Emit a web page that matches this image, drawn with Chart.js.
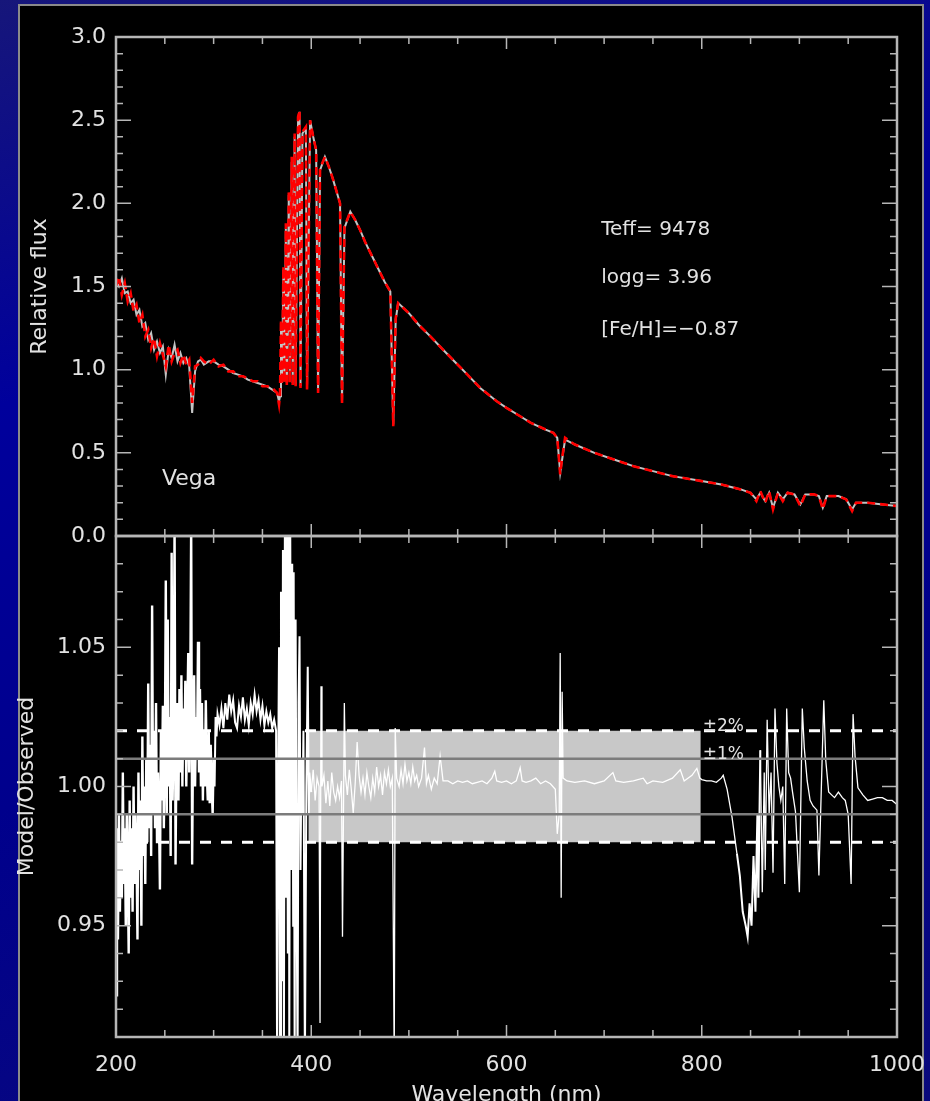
<!DOCTYPE html>
<html>
<head>
<meta charset="utf-8">
<script src="https://cdn.jsdelivr.net/npm/chart.js@4.4.1/dist/chart.umd.min.js"></script>
<style>
html, body { margin: 0; padding: 0; width: 930px; height: 1101px; overflow: hidden; }
body {
  position: relative;
  background: linear-gradient(165deg, #16167a 0%, #00009c 30%, #00008c 60%, #0a0a7c 100%);
}
#panel { position: absolute; left: 18px; top: 4px; width: 902px; height: 1120px; background: #000; border: 2px solid #8a8a8a; }
canvas { position: absolute; left: 0; }
#top { top: 0; }
#bottom { top: 500px; }
</style>
</head>
<body>
<div id="panel"></div>
<canvas id="top" width="930" height="560"></canvas>
<canvas id="bottom" width="930" height="620"></canvas>
<script>
// Vega spectrum, relative flux
var fluxWave = [
  200,203,206,209,212,215,218,221,224,227,
  230,233,236,239,242,245,248,251,254,257,
  260,263,266,269,272,275,278,281,284,287,
  290,295,300,305,310,315,320,325,330,335,
  340,345,350,355,360,365,367,368,369,370,
  371.5,372.5,374,375,377,378,380,381,383,384,
  386.5,388,389,391,394.5,395.7,398.8,402,405,407,
  409,414,418,422,426,429.5,431.5,434,440,445,
  450,455,460,465,470,475,481,484,486.5,489,
  500,510,522,535,550,560,573,590,600,614,
  625,640,648,652,655,657,660,670,690,710,
  730,750,770,800,820,840,850,856,860,865,
  869,873,878,883,888,895,901,906,915,920,
  924,928,940,948,954,958,970,985,1000
];
var fluxObserved = [
  1.53,1.50,1.55,1.46,1.47,1.40,1.42,1.33,1.36,1.26,
  1.28,1.18,1.22,1.12,1.17,1.10,1.14,0.97,1.12,1.07,
  1.15,1.05,1.10,1.04,1.07,1.02,0.74,0.99,1.05,1.06,
  1.03,1.05,1.05,1.03,1.02,1.00,0.98,0.97,0.96,0.94,
  0.93,0.92,0.91,0.90,0.88,0.86,0.81,0.84,1.25,0.92,
  1.60,0.93,1.85,0.92,2.05,0.93,2.25,0.92,2.40,0.91,
  2.50,2.55,0.90,2.42,2.45,0.89,2.50,2.40,2.32,0.87,
  2.20,2.28,2.22,2.15,2.07,2.00,0.80,1.85,1.95,1.90,
  1.84,1.77,1.71,1.65,1.59,1.53,1.47,0.67,1.30,1.40,
  1.34,1.27,1.20,1.12,1.03,0.97,0.89,0.81,0.77,0.72,
  0.68,0.64,0.62,0.59,0.38,0.46,0.58,0.55,0.50,0.46,
  0.42,0.39,0.36,0.33,0.31,0.28,0.26,0.22,0.26,0.21,
  0.26,0.17,0.26,0.22,0.26,0.25,0.19,0.25,0.25,0.24,
  0.17,0.24,0.24,0.22,0.16,0.20,0.20,0.19,0.18
];
var fluxModel = [
  1.50,1.56,1.45,1.52,1.41,1.46,1.35,1.39,1.28,1.33,
  1.20,1.24,1.13,1.19,1.08,1.16,1.09,1.02,1.15,1.05,
  1.10,1.12,1.04,1.09,1.03,1.06,0.80,1.02,1.03,1.07,
  1.05,1.03,1.06,1.02,1.03,0.99,0.99,0.96,0.96,0.95,
  0.93,0.93,0.90,0.90,0.89,0.86,0.79,0.85,1.30,0.91,
  1.62,0.92,1.88,0.90,2.08,0.92,2.28,0.90,2.42,0.90,
  2.52,2.56,0.89,2.43,2.46,0.88,2.50,2.40,2.32,0.86,
  2.21,2.28,2.22,2.15,2.07,2.00,0.79,1.86,1.95,1.90,
  1.84,1.77,1.71,1.65,1.59,1.53,1.47,0.66,1.31,1.40,
  1.34,1.27,1.20,1.12,1.03,0.97,0.89,0.81,0.77,0.72,
  0.68,0.64,0.62,0.59,0.37,0.47,0.59,0.55,0.50,0.46,
  0.42,0.39,0.36,0.33,0.31,0.28,0.26,0.21,0.27,0.20,
  0.27,0.16,0.26,0.21,0.26,0.25,0.18,0.25,0.25,0.24,
  0.16,0.24,0.24,0.22,0.15,0.20,0.20,0.19,0.18
];

// model / observed ratio (lower panel)
var ratioWave = [
  200,201,202,203,204,205,206,207,208,209,
  210,211,212,213,214,215,216,217,218,219,
  220,221,222,223,224,225,226,227,228,229,
  230,231,232,233,234,235,236,237,238,239,
  240,241,242,243,244,245,246,247,248,249,
  250,251,252,253,254,255,256,257,258,259,
  260,261,262,263,264,265,266,267,268,269,
  270,271,272,273,274,275,276,277,278,279,
  280,281,282,283,284,285,286,287,288,289,
  290,291,292,293,294,295,296,297,298,299,
  300,301,302,303,304,306,308,310,312,314,
  316,318,320,322,324,326,328,330,332,334,
  336,338,340,342,344,346,348,350,352,354,
  356,358,360,362,364,365,366,367,368,369,
  370,371,372,373,374,375,376,377,377.5,378.5,
  379.5,380.5,381.5,382,383,384,385,386,387,388,
  389,390,391,392,393.5,395,396.4,397.5,398,400,
  402,404,406,408,409,410,411,413,415,417,
  419,421,423,425,427,429,431,432,433.9,435,
  437,439,441,443,445,447,449,451,453,455,
  457,459,461,463,465,467,469,471,473,475,
  477,479,481,483,485,486,487.5,490,492,494,
  496,498,500,502,504,506,508,510,513,516,
  518,520,523,526,529,532,535,540,545,550,
  555,560,565,570,575,580,585,588,590,595,
  600,605,610,614,616,620,625,630,635,640,
  645,650,652,654,655,656,657,658,662,670,
  680,690,700,709,712,720,730,740,744,750,
  760,770,778,782,790,795,798,800,805,810,
  815,820,822,826,831,836,839,842,845,847,
  849,851,853,855,857,858,860,862,864,865,
  867,869,871,873,875,877,879,881,883,885,
  887,889,891,893,896,900,903,905,908,911,
  914,918,920,925,927,930,933,936,940,944,
  947,950,953,955,957,960,965,970,975,980,
  985,990,995,1000
];
var ratioValues = [
  0.925,0.985,0.945,0.990,0.955,0.980,0.960,1.005,0.965,0.985,
  0.950,0.990,0.970,0.940,0.995,0.960,0.985,0.955,1.000,0.965,
  0.990,0.975,0.945,1.005,0.970,0.995,0.950,1.018,0.975,1.000,
  0.965,1.010,0.980,1.037,0.985,1.015,0.975,1.065,0.990,1.020,
  0.985,1.030,0.980,1.005,0.990,0.963,1.020,0.995,1.029,0.985,
  1.010,1.074,0.990,1.060,1.000,1.025,0.975,1.084,0.995,1.020,
  1.095,0.972,1.015,1.030,0.995,1.035,1.005,1.040,1.000,1.028,
  1.010,1.038,1.000,1.025,1.048,1.005,1.030,1.095,0.972,1.020,
  1.040,1.000,1.025,1.010,1.052,1.005,1.035,1.000,1.030,0.995,
  1.020,1.000,1.031,1.005,0.995,1.020,0.994,1.015,1.000,0.990,
  1.010,1.000,1.025,1.018,1.026,1.022,1.028,1.021,1.030,1.024,
  1.033,1.027,1.031,1.023,1.021,1.029,1.025,1.032,1.024,1.028,
  1.022,1.030,1.026,1.033,1.027,1.031,1.024,1.029,1.022,1.027,
  1.023,1.026,1.021,1.024,1.020,0.900,1.000,1.050,0.900,1.070,
  0.930,1.085,0.905,1.100,0.960,1.100,0.940,1.100,0.900,1.090,
  0.970,1.080,0.950,1.077,0.900,1.060,0.960,0.900,1.030,1.054,
  0.970,1.010,0.990,1.020,0.900,1.000,1.043,0.990,1.005,0.998,
  1.006,0.995,1.003,1.000,0.915,1.036,1.000,1.004,0.994,1.002,
  0.993,1.005,0.998,0.995,1.000,0.996,1.002,0.946,1.030,1.004,
  0.997,1.006,0.999,0.9905,1.001,1.016,1.004,0.998,1.003,0.997,
  1.005,1.000,0.996,1.003,0.998,1.007,1.000,1.004,0.997,1.005,
  1.001,1.006,1.000,1.003,0.900,1.021,1.003,1.000,1.006,1.001,
  1.008,1.002,1.005,1.001,1.007,1.002,1.004,1.000,1.003,1.014,
  1.001,1.004,0.999,1.003,1.001,1.011,1.002,1.002,1.001,1.002,
  1.0015,1.002,1.001,1.0015,1.002,1.001,1.003,1.0055,1.002,1.0015,
  1.002,1.001,1.002,1.0067,1.002,1.0015,1.002,1.003,1.001,1.002,
  1.001,0.999,0.983,0.990,1.048,0.960,1.034,1.003,1.002,1.0015,
  1.002,1.001,1.002,1.005,1.002,1.0015,1.002,1.003,1.001,1.002,
  1.0015,1.003,1.006,1.002,1.004,1.0065,1.003,1.0025,1.002,1.002,
  1.0015,1.003,1.004,0.999,0.989,0.976,0.968,0.955,0.950,0.946,
  0.958,0.950,0.975,0.955,0.990,0.960,1.013,0.962,1.005,0.970,
  1.024,0.990,1.005,0.969,1.028,1.0085,1.000,0.995,1.000,0.965,
  1.028,1.005,1.003,0.998,0.991,0.962,1.028,1.014,1.002,0.995,
  0.993,0.9915,0.968,1.031,1.0095,0.998,0.997,0.996,0.998,0.996,
  0.995,0.990,0.965,1.026,1.011,0.9995,0.997,0.995,0.9955,0.996,
  0.996,0.995,0.995,0.9935
];

var waveTicks = [200, 400, 600, 800, 1000];
var fluxTicks = [0, 0.5, 1, 1.5, 2, 2.5, 3];
var ratioTicks = [0.95, 1.00, 1.05];
var bandWave = [397, 799];
var onePercent = [0.99, 1.01];
var twoPercent = [0.98, 1.02];

var textColor = '#e2e2e2';
Chart.defaults.font.family = "'DejaVu Sans', 'Liberation Sans', sans-serif";
Chart.defaults.color = textColor;
Chart.defaults.animation = false;

function pts(xs, ys) {
  return xs.map(function (x, i) { return { x: x, y: ys[i] }; });
}
function flat(level) {
  return pts([waveTicks[0], waveTicks[waveTicks.length - 1]], [level, level]);
}
// the noisy UV end and the 850 nm trough are drawn a little heavier, as in the plot
function ratioWidth(c) {
  var x = c.p0.parsed.x;
  if (x < 300) return 2.4;
  if (x < 400) return 2;
  if (x > 835 && x < 860) return 2;
  return 1.3;
}

// IDL style box: frame plus inward ticks on every side, and the text notes
var axisBox = {
  id: 'axisBox',
  afterDatasetsDraw: function (chart, args, o) {
    var ctx = chart.ctx, a = chart.chartArea;
    var xs = chart.scales.x, ys = chart.scales.y;
    ctx.save();
    ctx.strokeStyle = '#b6b6b6';
    ctx.lineWidth = 1.5;
    ctx.beginPath();
    for (var v = 200; v <= 1000; v += 50) {
      var px = xs.getPixelForValue(v);
      var len = v % 200 === 0 ? 12 : 7;
      ctx.moveTo(px, a.top); ctx.lineTo(px, a.top + len);
      ctx.moveTo(px, a.bottom); ctx.lineTo(px, a.bottom - len);
    }
    for (var k = 0; k <= o.count; k++) {
      var py = ys.getPixelForValue(o.from + k * o.step);
      var l2 = (k + o.shift) % 5 === 0 ? 15 : 7;
      ctx.moveTo(a.left, py); ctx.lineTo(a.left + l2, py);
      ctx.moveTo(a.right, py); ctx.lineTo(a.right - l2, py);
    }
    ctx.stroke();
    ctx.lineWidth = 2.5;
    ctx.strokeRect(a.left, a.top, a.right - a.left, a.bottom - a.top);

    ctx.fillStyle = textColor;
    (o.notes || []).forEach(function (n) {
      ctx.font = n.size + "px 'DejaVu Sans'";
      ctx.textBaseline = n.base || 'middle';
      ctx.fillText(n.text, xs.getPixelForValue(n.x), ys.getPixelForValue(n.y));
    });
    ctx.restore();
  }
};

function yAxis(min, max, tickList, digits, title, titlePad) {
  return {
    type: 'linear', min: min, max: max,
    afterFit: function (s) { s.width = 116; },
    afterBuildTicks: function (s) { s.ticks = tickList.map(function (v) { return { value: v }; }); },
    grid: { display: false, drawTicks: false },
    border: { display: false },
    ticks: { padding: 10, font: { size: 22 }, color: textColor,
             callback: function (v) { return Number(v).toFixed(digits); } },
    title: { display: true, text: title, font: { size: 22 }, color: textColor,
             padding: { top: titlePad, bottom: 0 } }
  };
}

new Chart(document.getElementById('top'), {
  type: 'line',
  data: {
    datasets: [
      { label: 'model', data: pts(fluxWave, fluxModel), borderColor: '#ff0000',
        borderWidth: 2.6, borderDash: [8, 5], pointRadius: 0, clip: 0, order: 1 },
      { label: 'observed', data: pts(fluxWave, fluxObserved), borderColor: '#c4c4c4',
        borderWidth: 2, pointRadius: 0, clip: 0, order: 2 }
    ]
  },
  options: {
    responsive: false,
    layout: { padding: { left: 0, top: 37, right: 33, bottom: 24 } },
    plugins: {
      legend: { display: false },
      tooltip: { enabled: false },
      axisBox: {
        from: 0, step: 0.1, count: 30, shift: 0,
        notes: [
          { text: 'Teff= 9478', x: 697, y: 1.84, size: 20 },
          { text: 'logg= 3.96', x: 697, y: 1.55, size: 20 },
          { text: '[Fe/H]=\u22120.87', x: 697, y: 1.24, size: 20 },
          { text: 'Vega', x: 247, y: 0.34, size: 22 }
        ]
      }
    },
    scales: {
      x: { type: 'linear', display: false, min: 200, max: 1000 },
      y: yAxis(0, 3, fluxTicks, 1, 'Relative flux', 27)
    }
  },
  plugins: [axisBox]
});

new Chart(document.getElementById('bottom'), {
  type: 'line',
  data: {
    datasets: [
      { label: 'band', data: pts(bandWave, [twoPercent[1], twoPercent[1]]),
        fill: { value: twoPercent[0] }, backgroundColor: '#c8c8c8', borderWidth: 0,
        pointRadius: 0, clip: 0, order: 6 },
      { label: 'ratio', data: pts(ratioWave, ratioValues), borderColor: '#ffffff',
        borderWidth: 1.3, pointRadius: 0, clip: 0, order: 5,
        segment: { borderWidth: ratioWidth } },
      { label: '+1%', data: flat(onePercent[1]), borderColor: '#7c7c7c', borderWidth: 2.5, pointRadius: 0, clip: 0, order: 4 },
      { label: '-1%', data: flat(onePercent[0]), borderColor: '#7c7c7c', borderWidth: 2.5, pointRadius: 0, clip: 0, order: 3 },
      { label: '+2%', data: flat(twoPercent[1]), borderColor: '#ffffff', borderWidth: 3, borderDash: [11, 10], pointRadius: 0, clip: 0, order: 2 },
      { label: '-2%', data: flat(twoPercent[0]), borderColor: '#ffffff', borderWidth: 3, borderDash: [11, 10], pointRadius: 0, clip: 0, order: 1 }
    ]
  },
  options: {
    responsive: false,
    layout: { padding: { left: 0, top: 36, right: 33, bottom: 0 } },
    plugins: {
      legend: { display: false },
      tooltip: { enabled: false },
      axisBox: {
        from: 0.91, step: 0.01, count: 18, shift: 1,
        notes: [
          { text: '\u00b12%', x: 801, y: 1.02, size: 17, base: 'alphabetic' },
          { text: '\u00b11%', x: 801, y: 1.01, size: 17, base: 'alphabetic' }
        ]
      }
    },
    scales: {
      x: {
        type: 'linear', min: 200, max: 1000,
        afterFit: function (s) { s.height = 83; s.paddingLeft = 0; s.paddingRight = 0; },
        afterBuildTicks: function (s) { s.ticks = waveTicks.map(function (v) { return { value: v }; }); },
        grid: { display: false, drawTicks: false },
        border: { display: false },
        ticks: { padding: 15, maxRotation: 0, autoSkip: false, font: { size: 22 }, color: textColor,
                 callback: function (v) { return String(v); } },
        title: { display: true, text: 'Wavelength (nm)', font: { size: 22 }, color: textColor,
                 padding: { top: 0, bottom: 12 } }
      },
      y: yAxis(0.91, 1.09, ratioTicks, 2, 'Model/Observed', 14)
    }
  },
  plugins: [axisBox]
});
</script>
</body>
</html>
